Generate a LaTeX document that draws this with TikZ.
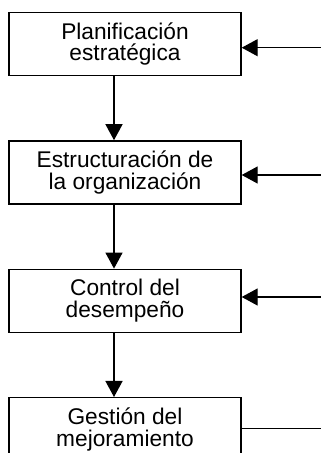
\documentclass[tikz,border=0pt]{standalone}
\usepackage{fontspec}
\setmainfont{Liberation Sans}
\usetikzlibrary{positioning,arrows.meta}
\tikzset{etapa/.style={draw,line width=1.4pt,minimum width=232pt,minimum height=63pt,inner sep=0pt,align=center,font=\fontsize{22.7}{21.6}\selectfont},
  flecha/.style={line width=1.4pt,-{Triangle[length=16pt,width=17pt]}},
  linea/.style={line width=1.4pt}}

\begin{document}
\begin{tikzpicture}[x=1pt,y=1pt]
  \useasboundingbox (0,0) rectangle (321,453);
  \clip (0,0) rectangle (321,453);

  \node[etapa] (plan) at (125,409) {Planificación\\estratégica};
  \node[etapa,below=64pt of plan] (estr) {Estructuración de\\la organización};
  \node[etapa,below=64pt of estr] (ctrl) {Control del\\desempeño};
  \node[etapa,below=64pt of ctrl] (gest) {Gestión del\\mejoramiento};

  % flechas entre etapas
  \draw[flecha] ([xshift=-11pt]plan.south) -- ([xshift=-11pt]estr.north);
  \draw[flecha] ([xshift=-11pt]estr.south) -- ([xshift=-11pt]ctrl.north);
  \draw[flecha] ([xshift=-11pt]ctrl.south) -- ([xshift=-11pt]gest.north);

  % retroalimentacion desde la derecha
  \coordinate (in1) at (321,405.3);
  \coordinate (in2) at (321,278);
  \coordinate (in3) at (321,156);
  \coordinate (out4) at (321,24.7);
  \draw[flecha] (in1) -- (in1 -| plan.east);
  \draw[flecha] (in2) -- (in2 -| estr.east);
  \draw[flecha] (in3) -- (in3 -| ctrl.east);
  \draw[linea] (out4 -| gest.east) -- (out4);
\end{tikzpicture}
\end{document}
